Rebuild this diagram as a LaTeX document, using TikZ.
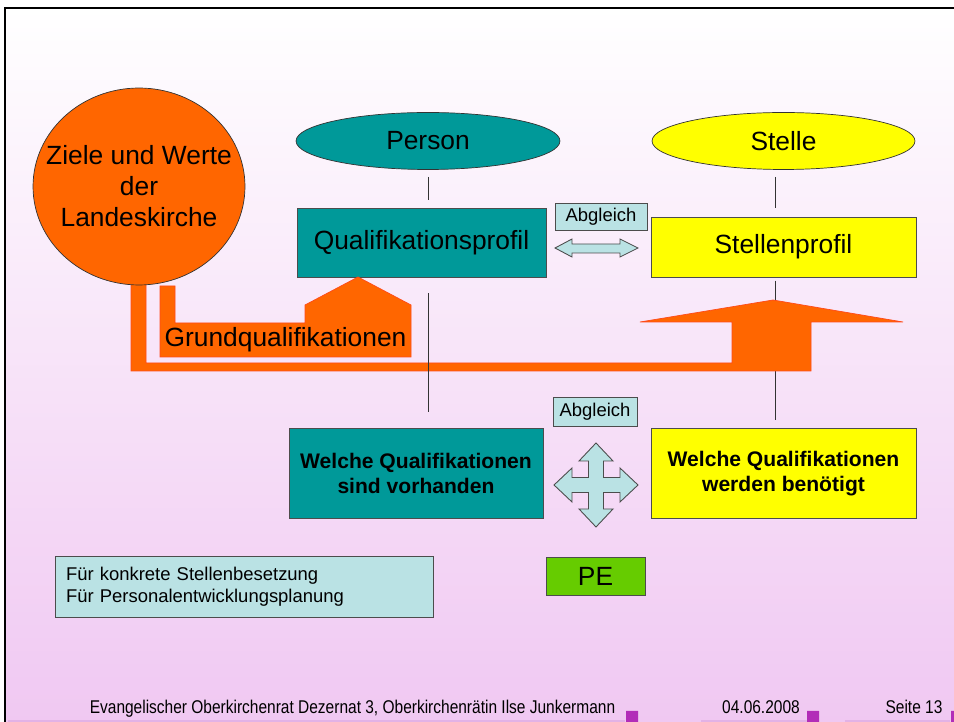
\documentclass[tikz,border=0pt]{standalone}
\usepackage{fontspec}
\setmainfont{Liberation Sans}
\newfontfamily\narrowfont[FakeStretch=0.84]{Liberation Sans}
\usetikzlibrary{positioning,shapes.geometric}

\definecolor{kirchorange}{HTML}{FF6600}
\definecolor{orangeline}{HTML}{FF4A1A}
\definecolor{personteal}{HTML}{009999}
\definecolor{stelleyellow}{HTML}{FFFF00}
\definecolor{abgleichblue}{HTML}{BAE2E4}
\definecolor{pegreen}{HTML}{66CC00}
\definecolor{bgpink}{HTML}{F0C8F2}
\definecolor{footline}{HTML}{E2B2E6}
\definecolor{footmark}{HTML}{B22DB8}

\begin{document}
\begin{tikzpicture}[x=0.02cm, y=-0.02cm, thin,
  oval node/.style={ellipse, draw=black!80, inner sep=0pt, minimum width=5.28cm, minimum height=1.14cm, font=\fontsize{15}{18}\selectfont},
  prof node/.style={rectangle, draw=black!70, inner sep=0pt, font=\fontsize{15}{18}\selectfont},
  ask node/.style={rectangle, draw=black!70, inner sep=0pt, align=center, minimum height=1.8cm, font=\bfseries\fontsize{12}{14.2}\selectfont},
  small node/.style={rectangle, draw=black!70, fill=abgleichblue, inner sep=0pt, font=\fontsize{10.5}{12.5}\selectfont},
  link/.style={draw=black!80, thin},
  orange shape/.style={fill=kirchorange, draw=orangeline, line width=0.4pt},
  swap arrow/.style={fill=abgleichblue, draw=black!70, line width=0.5pt},
  foot/.style={inner sep=0pt, anchor=base, font=\narrowfont\fontsize{10.5}{12}\selectfont}]

  % Background and frame
  \useasboundingbox (0,0) rectangle (954,722);
  \fill[white] (0,0) rectangle (954,722);
  \shade[top color=white, bottom color=bgpink] (5,8) rectangle (954,722);
  \draw[line width=0.05cm] (5,722) -- (5,8) -- (954,8);

  % Define nodes
  \node[oval node, fill=personteal] (person) at (428,141) {Person};
  \node[oval node, fill=stelleyellow, minimum width=5.26cm] (stelle) at (783.5,141) {Stelle};
  \node[prof node, fill=personteal, minimum width=4.98cm, minimum height=1.38cm] (quali) at (421.5,242.5) {Qualifikationsprofil};
  \node[prof node, fill=stelleyellow, minimum width=5.3cm, minimum height=1.2cm] (stp) [below=0.94cm of stelle] {Stellenprofil};
  \node[ask node, fill=personteal, minimum width=5.08cm] (vorh) at (416,473) {Welche Qualifikationen\\sind vorhanden};
  \node[ask node, fill=stelleyellow, minimum width=5.3cm] (bena) [below=3.02cm of stp] {Welche Qualifikationen\\werden benötigt};
  \node[small node, minimum width=1.84cm, minimum height=0.54cm] (abg1) at (601,216.5) {Abgleich};
  \node[small node, minimum width=1.68cm, minimum height=0.58cm] (abg2) at (595,411.5) {Abgleich};
  \node[prof node, fill=pegreen, minimum width=1.98cm, minimum height=0.76cm] (pe) at (595.5,576) {PE};
  \node[small node, align=left, text width=7.12cm, inner xsep=0.22cm, minimum height=1.22cm] (info) at (244,586.5) {Für konkrete Stellenbesetzung\\Für Personalentwicklungsplanung};

  % Connectors
  \draw[link, shorten <=0.14cm, shorten >=0.16cm] (person.south) -- (person.south |- quali.north);
  \draw[link, shorten <=0.14cm, shorten >=0.18cm] ([xshift=-0.17cm]stelle.south) -- ([xshift=-0.17cm]stelle.south |- stp.north);
  \draw[link, shorten <=0.06cm, shorten >=0.16cm] ([xshift=-0.17cm]stp.south) -- ([xshift=-0.17cm]stp.south |- bena.north);

  % Orange bars
  \path[orange shape] (131,283) -- (146,283) -- (146,363) -- (732,363) -- (732,322) -- (640,322) -- (773,300)
    -- (903,322) -- (811,322) -- (811,371) -- (131,371) -- cycle;
  \path[orange shape] (160,286) -- (175,286) -- (175,323) -- (305,323) -- (305,305) -- (358,277) -- (411,305)
    -- (411,357) -- (160,357) -- cycle;
  \node[inner sep=0pt, font=\fontsize{15}{18}\selectfont] (grund) at (285.5,340) {Grundqualifikationen};
  \node[ellipse, draw=black!80, fill=kirchorange, inner sep=0pt, minimum width=4.24cm, minimum height=3.94cm,
    label={[align=center, font=\fontsize{15}{17.6}\selectfont]center:Ziele und Werte\\der\\Landeskirche}] (ziele) at (139,186.5) {};

  \draw[link, shorten <=0.32cm, shorten >=0.32cm] ([xshift=0.13cm]quali.south) -- ([xshift=0.13cm]quali.south |- vorh.north);

  % Abgleich arrows
  \path[swap arrow] (555,248) -- (572,239) -- (572,244) -- (620,244) -- (620,239) -- (638,248) -- (620,257)
    -- (620,253) -- (572,253) -- (572,257) -- cycle;
  \path[swap arrow, shift={(596,485)}] (0,-42) -- (17,-24) -- (7.5,-24) -- (7.5,-7.5) -- (24,-7.5) -- (24,-17)
    -- (42,0) -- (24,17) -- (24,7.5) -- (7.5,7.5) -- (7.5,24) -- (17,24) -- (0,42) -- (-17,24) -- (-7.5,24)
    -- (-7.5,7.5) -- (-24,7.5) -- (-24,17) -- (-42,0) -- (-24,-17) -- (-24,-7.5) -- (-7.5,-7.5) -- (-7.5,-24)
    -- (-17,-24) -- cycle;

  % Footer
  \node[foot] (dez) at (352.5,714) {Evangelischer Oberkirchenrat Dezernat 3, Oberkirchenrätin Ilse Junkermann};
  \node[foot] (datum) at (761,714) {04.06.2008};
  \node[foot] (seite) at (914,714) {Seite 13};
  \draw[footline, line width=0.03cm] (8,721) -- (625,721) (701,721) -- (807,721) (845,721) -- (950,721);
  \fill[footmark] (626,711) rectangle (638,722) (807,711) rectangle (819,722) (951,711) rectangle (954,722);
\end{tikzpicture}
\end{document}
